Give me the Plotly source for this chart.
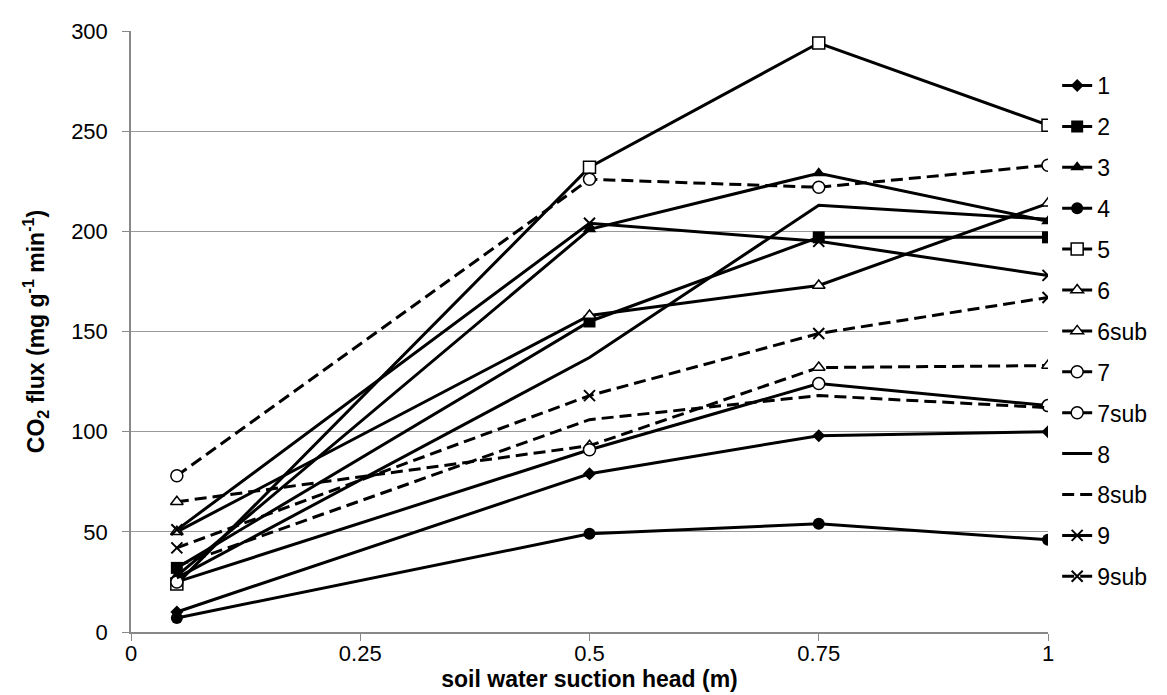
import plotly.graph_objects as go

x_vals = [0.05, 0.5, 0.75, 1.0]

s1 = [10, 79, 98, 100]
s2 = [32, 155, 197, 197]
s3 = [28, 201, 229, 205]
s4 = [7, 49, 54, 46]
s5 = [24, 232, 294, 253]
s6 = [50, 158, 173, 214]
s6sub = [65, 93, 132, 133]
s7 = [25, 91, 124, 113]
s7sub = [78, 226, 222, 233]
s8 = [27, 137, 213, 206]
s8sub = [33, 106, 118, 112]
s9 = [51, 204, 195, 178]
s9sub = [42, 118, 149, 167]

names = ["1", "2", "3", "4", "5", "6", "6sub", "7", "7sub", "8", "8sub", "9", "9sub"]
series = [s1, s2, s3, s4, s5, s6, s6sub, s7, s7sub, s8, s8sub, s9, s9sub]
symbols = ["diamond", "square", "triangle-up", "circle", "square-open", "triangle-up-open",
           "triangle-up-open", "circle-open", "circle-open", None, None, "x-thin", "x-thin"]
sizes = [10, 12, 12, 12, 12, 11, 11, 12, 12, 0, 0, 11, 11]
dashed = [False, False, False, False, False, False, True, False, True, False, True, False, True]

fig = go.Figure()
for nm, ys, sym, sz, d in zip(names, series, symbols, sizes, dashed):
    marker = dict(color="black", size=sz)
    if sym is None:
        mode = "lines"
    else:
        mode = "lines+markers"
        marker["symbol"] = sym
        if sym.endswith("open"):
            marker = dict(symbol=sym.replace("-open", ""), size=sz, color="white",
                          line=dict(color="black", width=1.5))
        elif sym == "x-thin":
            marker["line"] = dict(color="black", width=2)
    fig.add_trace(go.Scatter(
        x=x_vals, y=ys, name=nm, mode=mode, legendgroup=nm,
        line=dict(color="black", width=3, dash="12px,6px" if d else "solid"),
        marker=marker,
    ))

fig.update_layout(
    width=1167, height=695,
    margin=dict(l=123, r=127, t=23, b=71),
    paper_bgcolor="white", plot_bgcolor="white",
    font=dict(family="Liberation Sans, Arial, sans-serif", color="black", size=22),
    showlegend=True,
    legend=dict(x=1.01, xanchor="left", y=0.945, yanchor="top",
                font=dict(size=23), tracegroupgap=8, itemwidth=30,
                bgcolor="rgba(0,0,0,0)"),
    xaxis=dict(range=[0, 1], tickvals=[0, 0.25, 0.5, 0.75, 1],
               ticktext=["0", "0.25", "0.5", "0.75", "1"],
               showgrid=False, zeroline=False, showline=True, linecolor="#888888", linewidth=1.5,
               ticks="outside", ticklen=7, tickcolor="#888888",
               tickfont=dict(size=22), ticklabelstandoff=-6,
               title=dict(text="<b>soil water suction head (m)</b>", font=dict(size=23), standoff=0)),
    yaxis=dict(range=[0, 300], tickvals=[0, 50, 100, 150, 200, 250, 300],
               showgrid=True, gridcolor="#999999", gridwidth=1, zeroline=False,
               showline=True, linecolor="#888888", linewidth=1.5,
               ticks="outside", ticklen=7, tickcolor="#888888",
               tickfont=dict(size=22), ticklabelstandoff=10,
               title=dict(text="<b>CO<sub>2</sub> flux (mg g<sup>-1</sup> min<sup>-1</sup>)</b>",
                          font=dict(size=23), standoff=20)),
)

fig.write_html("out.html")
